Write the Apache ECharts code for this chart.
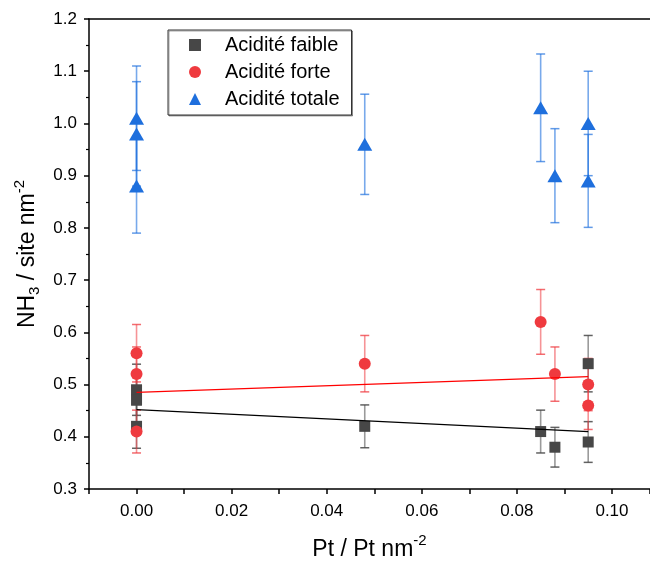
<!DOCTYPE html>
<html>
<head>
<meta charset="utf-8">
<script src="https://cdn.jsdelivr.net/npm/echarts@6/dist/echarts.min.js"></script>
<style>html,body{margin:0;padding:0;background:#fff}#c{width:650px;height:562px}</style>
</head>
<body>
<div id="c"></div>
<script>
// ---- data ----
const seriesNames = ['Acidité faible', 'Acidité forte', 'Acidité totale'];

const xFaible = [0, 0, 0, 0.048, 0.085, 0.088, 0.095, 0.095];
const yFaible = [0.49, 0.47, 0.42, 0.42, 0.41, 0.38, 0.54, 0.39];
const eFaible = [0.049, 0.047, 0.042, 0.041, 0.041, 0.038, 0.054, 0.039];

const xForte = [0, 0, 0, 0.048, 0.085, 0.088, 0.095, 0.095];
const yForte = [0.56, 0.52, 0.41, 0.54, 0.62, 0.52, 0.50, 0.46];
const eForte = [0.055, 0.052, 0.041, 0.054, 0.062, 0.052, 0.050, 0.046];

const xTotale = [0, 0, 0, 0.048, 0.085, 0.088, 0.095, 0.095];
const yTotale = [1.01, 0.98, 0.88, 0.96, 1.03, 0.90, 1.00, 0.89];
const eTotale = [0.100, 0.100, 0.090, 0.096, 0.103, 0.090, 0.100, 0.089];

const fitX = [0, 0.095];
const fitFaible = [0.452, 0.410];
const fitForte = [0.485, 0.515];

const xTicks = [0.00, 0.02, 0.04, 0.06, 0.08, 0.10];
const yTicks = [0.3, 0.4, 0.5, 0.6, 0.7, 0.8, 0.9, 1.0, 1.1, 1.2];

// ---- chart ----
const FONT = '"Liberation Sans", Arial, sans-serif';
const cBlack = '#474747', cRed = '#EF3A3F', cBlue = '#1E6FDD';

function rows(xs, ys, es) { return xs.map((x, i) => es ? [x, ys[i], es[i]] : [x, ys[i]]); }

function errSeries(name, xs, ys, es, lineColor, capColor) {
  return {
    type: 'custom', name: name + '_err', z: 2, silent: true,
    data: rows(xs, ys, es),
    encode: { x: 0, y: 1 },
    renderItem: function (params, api) {
      const x = api.value(0), y = api.value(1), e = api.value(2);
      const t = api.coord([x, y + e]), b = api.coord([x, y - e]);
      const hw = 4.5;
      return {
        type: 'group', children: [
          { type: 'line', shape: { x1: t[0], y1: t[1], x2: b[0], y2: b[1] }, style: { stroke: lineColor, lineWidth: 1.6 } },
          { type: 'line', shape: { x1: t[0] - hw, y1: t[1], x2: t[0] + hw, y2: t[1] }, style: { stroke: capColor, lineWidth: 1.5 } },
          { type: 'line', shape: { x1: b[0] - hw, y1: b[1], x2: b[0] + hw, y2: b[1] }, style: { stroke: capColor, lineWidth: 1.5 } }
        ]
      };
    }
  };
}

const chart = echarts.init(document.getElementById('c'), null, { renderer: 'canvas' });
chart.setOption({
  animation: false,
  backgroundColor: '#fff',
  textStyle: { fontFamily: FONT },
  grid: { left: 89, right: 0, top: 19, bottom: 73, outerBoundsMode: 'none', containLabel: false },
  legend: {
    orient: 'vertical', left: 168, top: 30,
    padding: [5, 12, 6, 21],
    itemWidth: 12, itemHeight: 12, itemGap: 7,
    borderColor: '#333', borderWidth: 1, backgroundColor: '#fff',
    shadowColor: 'rgba(0,0,0,0.35)', shadowOffsetX: 1, shadowOffsetY: 1, shadowBlur: 0,
    textStyle: { fontFamily: FONT, fontSize: 20, color: '#000', lineHeight: 20, padding: [0, 0, 0, 19] },
    data: [
      { name: seriesNames[0], icon: 'rect' },
      { name: seriesNames[1], icon: 'circle' },
      { name: seriesNames[2], icon: 'triangle' }
    ]
  },
  xAxis: [{
    type: 'value', min: -0.01, max: 0.108, interval: 0.01,
    name: '{a|Pt / Pt nm}{sup|-2}', nameLocation: 'middle', nameGap: 44,
    nameTextStyle: {
      rich: {
        a: { fontFamily: FONT, fontSize: 23, color: '#000', lineHeight: 28, verticalAlign: 'bottom' },
        sup: { fontFamily: FONT, fontSize: 15, color: '#000', lineHeight: 28, verticalAlign: 'top' }
      }
    },
    axisLine: { show: true, onZero: false, lineStyle: { color: '#000', width: 1.5 } },
    axisTick: { show: true, inside: false, length: 5, lineStyle: { color: '#000', width: 1.5 } },
    axisLabel: {
      fontFamily: FONT, fontSize: 17, color: '#000', margin: 14,
      formatter: function (v) {
        const k = Math.round(v * 100);
        if (Math.abs(v * 100 - k) > 1e-6) return '';
        const hit = xTicks.some(t => Math.abs(t - k / 100) < 1e-9);
        return hit ? (k / 100).toFixed(2) : '';
      }
    },
    splitLine: { show: false }
  }, {
    type: 'value', position: 'top', min: -0.01, max: 0.108,
    axisLine: { show: true, onZero: false, lineStyle: { color: '#000', width: 1.5 } },
    axisTick: { show: false }, axisLabel: { show: false }, splitLine: { show: false }
  }],
  yAxis: {
    type: 'value', min: yTicks[0], max: yTicks[yTicks.length - 1], interval: 0.1,
    name: '{a|NH}{sub|3}{a| / site nm}{sup|-2}', nameLocation: 'middle', nameGap: 43, nameRotate: 90,
    nameTextStyle: {
      rich: {
        a: { fontFamily: FONT, fontSize: 23, color: '#000', lineHeight: 30, verticalAlign: 'middle' },
        sub: { fontFamily: FONT, fontSize: 15, color: '#000', lineHeight: 30, verticalAlign: 'bottom' },
        sup: { fontFamily: FONT, fontSize: 15, color: '#000', lineHeight: 30, verticalAlign: 'top' }
      }
    },
    axisLine: { show: true, onZero: false, lineStyle: { color: '#000', width: 1.5 } },
    axisTick: { show: true, inside: false, length: 5, lineStyle: { color: '#000', width: 1.5 } },
    minorTick: { show: true, splitNumber: 2, length: 3, lineStyle: { color: '#000', width: 1.2 } },
    axisLabel: { fontFamily: FONT, fontSize: 17, color: '#000', margin: 12, formatter: v => v.toFixed(1) },
    splitLine: { show: false }
  },
  series: [
    errSeries('f', xFaible, yFaible, eFaible, 'rgba(71,71,71,0.55)', 'rgba(71,71,71,0.85)'),
    errSeries('s', xForte, yForte, eForte, 'rgba(239,58,63,0.55)', 'rgba(239,58,63,0.75)'),
    errSeries('t', xTotale, yTotale, eTotale, 'rgba(30,111,221,0.6)', 'rgba(30,111,221,0.7)'),
    { type: 'scatter', name: seriesNames[0], z: 3, symbol: 'rect', symbolSize: 11,
      itemStyle: { color: cBlack, opacity: 1 }, data: rows(xFaible, yFaible) },
    { type: 'scatter', name: seriesNames[1], z: 3, symbol: 'circle', symbolSize: 12,
      itemStyle: { color: cRed, opacity: 1 }, data: rows(xForte, yForte) },
    { type: 'scatter', name: seriesNames[2], z: 3, symbol: 'triangle', symbolSize: [15, 13],
      itemStyle: { color: cBlue, opacity: 1 }, data: rows(xTotale, yTotale) },
    { type: 'line', name: 'fitFaible', z: 4, symbol: 'none', silent: true,
      lineStyle: { color: '#000', width: 1.2 }, data: rows(fitX, fitFaible) },
    { type: 'line', name: 'fitForte', z: 4, symbol: 'none', silent: true,
      lineStyle: { color: '#ff0000', width: 1.2 }, data: rows(fitX, fitForte) }
  ]
});
</script>
</body>
</html>
